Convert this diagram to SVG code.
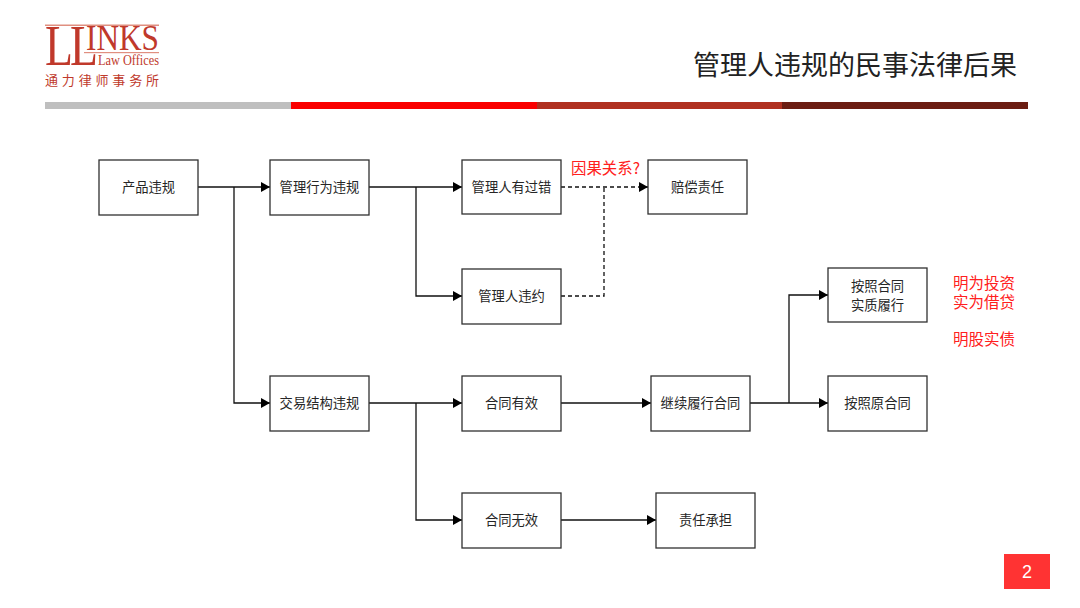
<svg xmlns="http://www.w3.org/2000/svg" width="1080" height="608" viewBox="0 0 1080 608">
<style>
text{font-family:"Liberation Serif","Noto Sans CJK SC",serif}
.cjk{font-family:"Noto Sans CJK SC",sans-serif}
.box{fill:#fff;stroke:#303030;stroke-width:1.3}
.lbl{font-size:13.3px;fill:#262626;text-anchor:middle;font-family:"Noto Sans CJK SC",sans-serif}
.line{fill:none;stroke:#101010;stroke-width:1.3}
.dash{stroke-dasharray:4 3}
.red{font-size:15.5px;fill:#ff2020;font-family:"Noto Sans CJK SC",sans-serif}
.logo{fill:#c0392b}
</style>
<defs>
<marker id="arr" markerUnits="userSpaceOnUse" markerWidth="9" markerHeight="10" refX="9" refY="5" orient="auto"><path d="M0 0L9 5L0 10Z" fill="#000"/></marker>
</defs>
<rect width="1080" height="608" fill="#fff"/>
<g id="logo">
<rect x="45" y="24.500" width="114" height="1.500" fill="#e08f80"/>
<rect x="84" y="52" width="75" height="1.200" fill="#e08f80"/>
<text class="logo" x="45" y="65" font-size="58" textLength="28" lengthAdjust="spacingAndGlyphs">L</text>
<text class="logo" x="70" y="65" font-size="58" textLength="28" lengthAdjust="spacingAndGlyphs">L</text>
<text class="logo" x="86" y="50" font-size="35" textLength="73" lengthAdjust="spacingAndGlyphs">INKS</text>
<text class="logo" x="98" y="65" font-size="14" textLength="61" lengthAdjust="spacingAndGlyphs">Law Offices</text>
<text x="45" y="85" font-size="13" fill="#c0392b" textLength="114" class="cjk">通力律师事务所</text>
</g>
<g id="title"><text x="1017" y="75" font-size="27" text-anchor="end" fill="#222" class="cjk">管理人违规的民事法律后果</text></g>
<g id="bar">
<rect x="45" y="102" width="246" height="7" fill="#bfbfbf"/>
<rect x="291" y="102" width="246" height="7" fill="#fa0000"/>
<rect x="537" y="102" width="245" height="7" fill="#b03020"/>
<rect x="782" y="102" width="246" height="7" fill="#6b1d12"/>
</g>
<g id="connectors">
<path class="line" d="M198 187H270" marker-end="url(#arr)"/>
<path class="line" d="M234 187V403H270" marker-end="url(#arr)"/>
<path class="line" d="M369 187H462" marker-end="url(#arr)"/>
<path class="line" d="M416 187V296H462" marker-end="url(#arr)"/>
<path class="line dash" d="M561 187H648" marker-end="url(#arr)"/>
<path class="line dash" d="M561 296H604V187"/>
<path class="line" d="M369 403H462" marker-end="url(#arr)"/>
<path class="line" d="M416 403V520H462" marker-end="url(#arr)"/>
<path class="line" d="M561 403H651" marker-end="url(#arr)"/>
<path class="line" d="M750 403H828" marker-end="url(#arr)"/>
<path class="line" d="M789 403V295H828" marker-end="url(#arr)"/>
<path class="line" d="M561 520H656" marker-end="url(#arr)"/>
</g>
<g id="n1"><rect class="box" x="99" y="160" width="99" height="55"/><text class="lbl" x="148.500" y="192">产品违规</text></g>
<g id="n2"><rect class="box" x="270" y="160" width="99" height="55"/><text class="lbl" x="319.500" y="192">管理行为违规</text></g>
<g id="n3"><rect class="box" x="462" y="160" width="99" height="54"/><text class="lbl" x="511.500" y="192">管理人有过错</text></g>
<g id="n4"><rect class="box" x="648" y="160" width="99" height="54"/><text class="lbl" x="697.500" y="192">赔偿责任</text></g>
<g id="n5"><rect class="box" x="462" y="269" width="99" height="55"/><text class="lbl" x="511.500" y="301">管理人违约</text></g>
<g id="n6"><rect class="box" x="270" y="376" width="99" height="55"/><text class="lbl" x="319.500" y="408">交易结构违规</text></g>
<g id="n7"><rect class="box" x="462" y="376" width="99" height="55"/><text class="lbl" x="511.500" y="408">合同有效</text></g>
<g id="n8"><rect class="box" x="651" y="376" width="99" height="55"/><text class="lbl" x="700.500" y="408">继续履行合同</text></g>
<g id="n9"><rect class="box" x="828" y="268" width="99" height="54"/><text class="lbl" x="877.500" y="291">按照合同</text><text class="lbl" x="877.500" y="310">实质履行</text></g>
<g id="n10"><rect class="box" x="828" y="376" width="99" height="55"/><text class="lbl" x="877.500" y="408">按照原合同</text></g>
<g id="n11"><rect class="box" x="462" y="493" width="99" height="55"/><text class="lbl" x="511.500" y="525">合同无效</text></g>
<g id="n12"><rect class="box" x="656" y="493" width="99" height="55"/><text class="lbl" x="705.500" y="525">责任承担</text></g>
<g id="notes">
<text class="red" x="571" y="174" textLength="69" lengthAdjust="spacingAndGlyphs">因果关系?</text>
<text class="red" x="953" y="289">明为投资</text>
<text class="red" x="953" y="308">实为借贷</text>
<text class="red" x="953" y="345">明股实债</text>
</g>
<g id="page"><rect x="1004" y="554" width="46" height="35" fill="#ff3333"/><text x="1027" y="578" font-size="18" fill="#fff" text-anchor="middle" style="font-family:'Liberation Sans',sans-serif">2</text></g>
</svg>
